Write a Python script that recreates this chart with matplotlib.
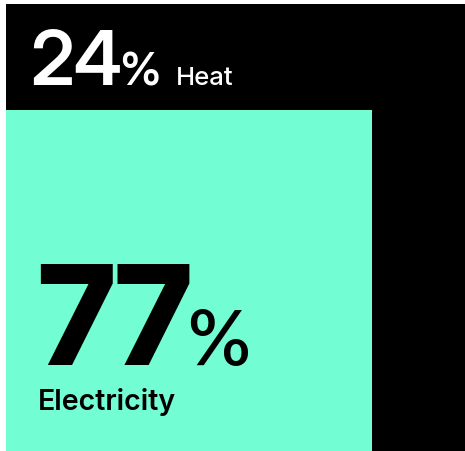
import matplotlib.pyplot as plt
from matplotlib import font_manager as fm

categories = ["Heat", "Electricity"]
values = [24, 77]
labels = ["24", "77"]

black = "#000000"
mint = "#72FDD2"


def pick(family, weight, size):
    # static, upright, normal-width face of the family closest to the weight
    found = []
    for f in fm.fontManager.ttflist:
        if f.name != family or f.style != "normal" or f.stretch != "normal":
            continue
        w = f.weight if isinstance(f.weight, int) else fm.weight_dict.get(f.weight, 400)
        found.append((abs(w - weight), f.fname))
    if not found:
        return fm.FontProperties(family="DejaVu Sans", weight=weight, size=size)
    found.sort()
    return fm.FontProperties(fname=found[0][1], size=size)


fig = plt.figure(figsize=(4.65, 4.52), dpi=100)
ax = fig.add_axes([6 / 465, 0, 459 / 465, 447 / 452])
total = sum(values)

# whole box = heat + electricity, electricity block sits at the bottom
ax.bar([0], [total], width=1.0, align="edge", color=black, linewidth=0)
ax.bar([0], [values[1]], width=0.797, align="edge", color=mint, linewidth=0)
ax.set_xlim(0, 1)
ax.set_ylim(0, total)
ax.axis("off")

# heat label in the black band
y_heat = 82.9
ax.text(0.052, y_heat, labels[0], color="white", va="baseline", ha="left",
        fontproperties=pick("Inter Display", 600, 54))
ax.text(0.246, y_heat, "%", color="white", va="baseline", ha="left",
        fontproperties=pick("Inter Display", 600, 33))
ax.text(0.370, y_heat, categories[0], color="white", va="baseline", ha="left",
        fontproperties=pick("Inter", 500, 18.5))

# electricity label in the mint block
ax.text(0.068, 19.66, labels[1], color="black", va="baseline", ha="left",
        fontproperties=pick("Inter Display", 800, 99))
ax.text(0.390, 19.66, "%", color="black", va="baseline", ha="left",
        fontproperties=pick("Inter Display", 500, 55))
ax.text(0.070, 9.49, categories[1], color="black", va="baseline", ha="left",
        fontproperties=pick("Inter", 600, 20.5))

fig.savefig("out.png", dpi=100)
